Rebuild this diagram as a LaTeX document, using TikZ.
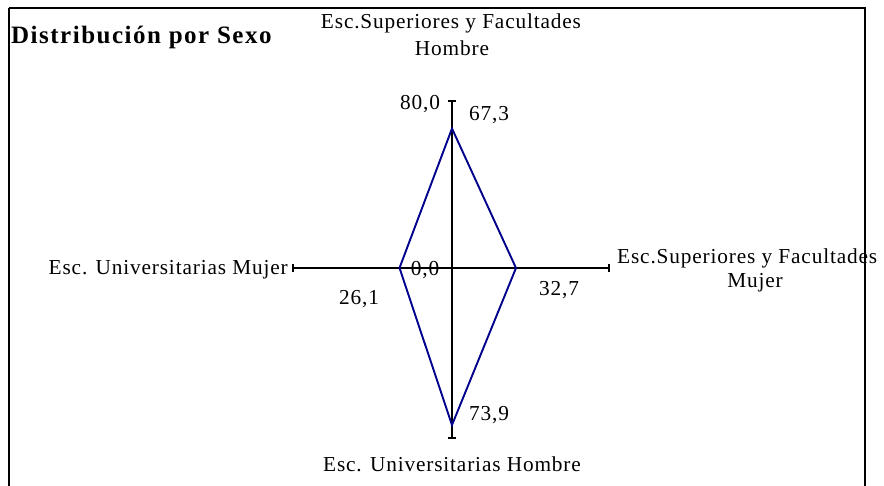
\documentclass[tikz,border=0pt]{standalone}
\usepackage{fontspec}
\setmainfont{Liberation Serif}[LetterSpace=4]
\definecolor{navyc}{RGB}{0,0,140}
\begin{document}
\begin{tikzpicture}[x=1pt,y=-1pt,
  lbl/.style={inner sep=0pt, font=\fontsize{21.3}{24}\selectfont},
  ttl/.style={inner sep=0pt, font=\fontsize{25}{28}\selectfont\bfseries\addfontfeature{LetterSpace=6}},
  axis/.style={line width=1.9pt, black},
  tick/.style={line width=1.9pt, black},
  poly/.style={line width=1.9pt, navyc, line join=miter},
  frame/.style={line width=2.2pt, black}]
\useasboundingbox (0,0) rectangle (884,485);
\clip (0,0) rectangle (884,485);
% axes
\coordinate (c) at (452,268);
\coordinate (top) at (452,101);
\coordinate (bot) at (452,438);
\coordinate (lft) at (293,268);
\coordinate (rgt) at (609,268);
\draw[axis] (top) -- (bot);
\draw[axis] (lft) -- (rgt);
\draw[tick] ([xshift=-4pt]top) -- ([xshift=4pt]top);
\draw[tick] ([xshift=-4pt]bot) -- ([xshift=4pt]bot);
\draw[tick] ([yshift=-4pt]lft) -- ([yshift=4pt]lft);
\draw[tick] ([yshift=-4pt]rgt) -- ([yshift=4pt]rgt);
% data polygon
\coordinate (pt) at (452,128.5);
\coordinate (pr) at (516,268);
\coordinate (pb) at (452,425);
\coordinate (pl) at (399.5,268);
\draw[poly] (pt) -- (pr) -- (pb) -- (pl) -- cycle;
% labels
\node[ttl, anchor=base west] (title) at (11,43) {Distribución por Sexo};
\node[lbl] (nt1) at (451,23) {Esc.Superiores y Facultades};
\node[lbl] (nt2) at (452,48) {Hombre};
\node[lbl] (v80) at (420,104) {80,0};
\node[lbl] (v67) at (489,115) {67,3};
\node[lbl] (v0) at (425,270) {0,0};
\node[lbl] (v26) at (359,299) {26,1};
\node[lbl] (v32) at (559,290) {32,7};
\node[lbl] (v73) at (489,415) {73,9};
\node[lbl] (nb) at (452,464) {Esc. Universitarias Hombre};
\node[lbl, anchor=east] (nl) at (288,270) {Esc. Universitarias Mujer};
\node[lbl, anchor=west] (nr1) at (617,258) {Esc.Superiores y Facultades};
\node[lbl] (nr2) at (755,283) {Mujer};
% frame
\draw[frame] (9,8) -- (865,8) -- (865,495);
\draw[frame] (9,8) -- (9,495);
\end{tikzpicture}
\end{document}
